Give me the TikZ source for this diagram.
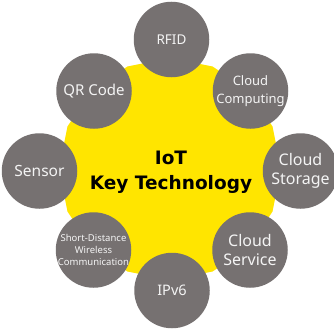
\documentclass[tikz,border=0pt]{standalone}
\usepackage{fontspec}
\setmainfont{Noto Sans}
\newfontfamily\titlefont{DejaVu Sans}
\definecolor{yel}{RGB}{255,229,0}
\definecolor{bubgray}{RGB}{118,113,113}
\definecolor{bubtext}{RGB}{244,244,244}
\tikzset{
  bub/.style={circle, fill=bubgray, minimum size=75.5pt, inner sep=0pt},
  lbl/.style={text=bubtext, align=center, inner sep=0pt},
  core/.style={fill=yel},
}
\begin{document}
\begin{tikzpicture}[x=1pt,y=-1pt]
\clip (0,0) rectangle (334,329);
\fill[white] (0,0) rectangle (334,329);
% yellow 16-gon
\fill[core,shift={(170,169)}] (0:111) \foreach \a in {22.5,45,...,337.5} { -- (\a:111) } -- cycle;
\node[inner sep=0pt] (hub) at (170,169) {};
% bubbles
\node[bub] (rfid)  at (171.5,39.5) {};
\node[bub] (cc)    at (250.5,91) {};
\node[bub] (cst)   at (300.5,171) {};
\node[bub] (csv)   at (250,250) {};
\node[bub] (ipv6)  at (172,290.5) {};
\node[bub] (sdw)   at (93.5,250) {};
\node[bub] (sens)  at (39.5,171) {};
\node[bub] (qr)    at (94,91) {};
% labels
\node[lbl,font=\fontsize{13.5}{16}\selectfont] at (rfid) {RFID};
\node[lbl,font=\fontsize{13}{18}\selectfont] at (cc) {Cloud\\Computing};
\node[lbl,font=\fontsize{16}{19.3}\selectfont] at (cst) {Cloud\\Storage};
\node[lbl,font=\fontsize{16}{18.5}\selectfont] at (csv) {Cloud\\Service};
\node[lbl,font=\fontsize{14.5}{17}\selectfont] at (ipv6) {IPv6};
\node[lbl,font=\fontsize{9.5}{11.7}\selectfont] at (sdw) {Short-Distance\\Wireless\\Communication};
\node[lbl,font=\fontsize{15.5}{18}\selectfont] at (sens) {Sensor};
\node[lbl,font=\fontsize{15}{18}\selectfont] at (qr) {QR Code};
\node[align=center,inner sep=0pt,font=\titlefont\bfseries\fontsize{18.5}{25}\selectfont] (title) at (171,172) {IoT\\Key Technology};
\end{tikzpicture}
\end{document}
